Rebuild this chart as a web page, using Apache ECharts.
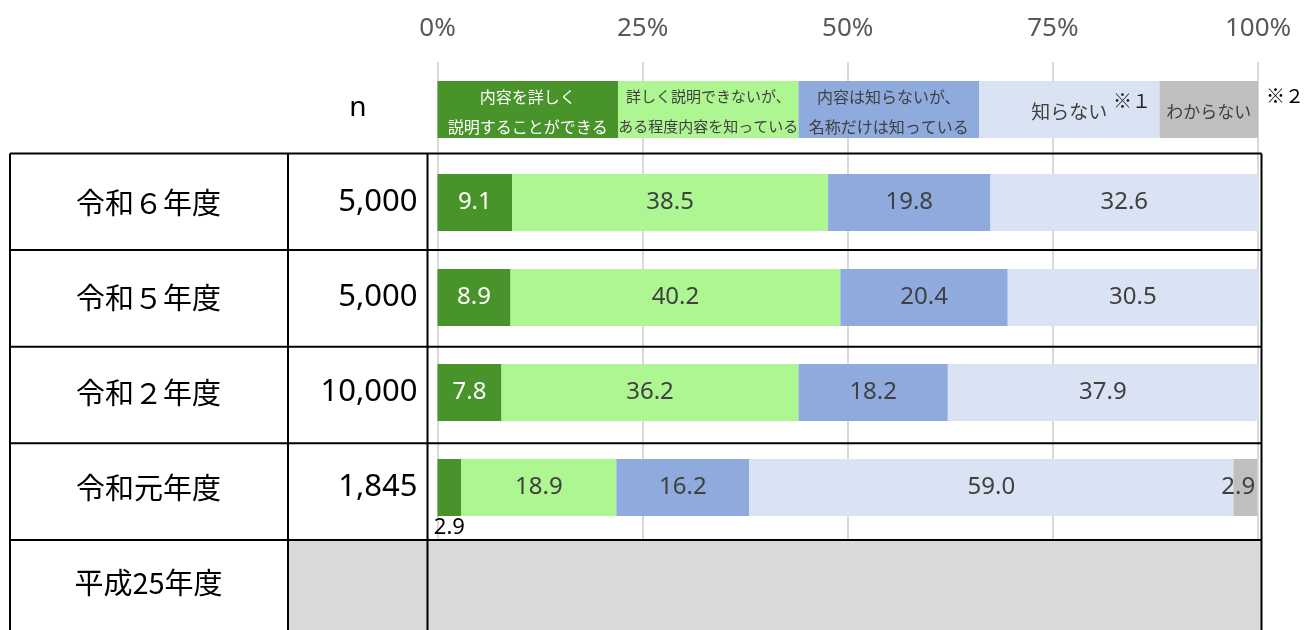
<!DOCTYPE html>
<html>
<head>
<meta charset="utf-8">
<script src="https://cdn.jsdelivr.net/npm/echarts@6/dist/echarts.min.js"></script>
<style>
  html, body { margin: 0; padding: 0; background: #fff; }
  #main { width: 1308px; height: 630px; }
</style>
</head>
<body>
<div id="main"></div>
<script>
// 行（年度）と回答数
var years = ['令和６年度', '令和５年度', '令和２年度', '令和元年度', '平成25年度']
var nValues = ['5,000', '5,000', '10,000', '1,845', '']

// 回答の割合（%）
var seriesNames = ['内容を詳しく\n説明することができる', '詳しく説明できないが、\nある程度内容を知っている', '内容は知らないが、\n名称だけは知っている', '知らない', 'わからない']
var detailed = [9.1, 8.9, 7.8, 2.9, null]
var someWhat = [38.5, 40.2, 36.2, 18.9, null]
var nameOnly = [19.8, 20.4, 18.2, 16.2, null]
var notKnow = [32.6, 30.5, 37.9, 59.0, null]
var unknown = [null, null, null, 2.9, null]

var xTicks = [0, 25, 50, 75, 100]
var legendStops = [0, 22, 44, 66, 88, 100]
var notes = ['', '', '', '※１', '※２']

var colors = ['#48942A', '#ADF692', '#8FAADC', '#DAE3F3', '#BFBFBF']
var labelColors = ['#fff', '#404040', '#404040', '#404040', '#404040']
var legendFontSizes = [16, 15, 16, 19, 17]

var numFont = '"Noto Sans", "Noto Sans CJK JP", sans-serif'
var jpFont = '"Noto Sans CJK JP", "Noto Sans", sans-serif'

var gridLeft = 437.5
var gridWidth = 820.5
var tableTop = 153.5
var rowH = 96.6
var tableLeft = 10
var col2 = 288
var col3 = 427.5
var tableRight = 1261.5

var myChart = echarts.init(document.getElementById('main'))

var seriesData = [detailed, someWhat, nameOnly, notKnow, unknown]
var series = seriesData.map(function (arr, i) {
  return {
    name: seriesNames[i],
    type: 'bar',
    stack: 'total',
    barWidth: 57,
    itemStyle: { color: colors[i] },
    emphasis: { disabled: true },
    label: {
      show: true,
      position: i === 4 ? 'insideRight' : 'inside',
      distance: 2,
      color: labelColors[i],
      fontSize: 24,
      fontFamily: numFont,
      formatter: function (p) {
        return p.value == null ? '' : Number(p.value).toFixed(1)
      }
    },
    data: arr.map(function (v) {
      // 細すぎる区間はラベルを棒の下に出す
      if (i === 0 && v !== null && v < 5) {
        return { value: v, label: { position: 'bottom', distance: 1, color: '#000', fontSize: 22 } }
      }
      return v
    })
  }
})

var option = {
  animation: false,
  grid: {
    left: gridLeft,
    width: gridWidth,
    top: tableTop + 1.5,
    height: rowH * years.length
  },
  xAxis: {
    type: 'value',
    position: 'top',
    min: xTicks[0],
    max: xTicks[xTicks.length - 1],
    interval: xTicks[1] - xTicks[0],
    axisLine: { show: false },
    axisTick: {
      show: true,
      length: 93,
      lineStyle: { color: '#D9D9D9', width: 2 }
    },
    axisLabel: {
      formatter: '{value}%',
      color: '#595959',
      fontSize: 26,
      fontFamily: numFont,
      margin: 113
    },
    splitLine: {
      show: true,
      lineStyle: { color: '#D9D9D9', width: 2 }
    }
  },
  yAxis: {
    type: 'category',
    data: years,
    inverse: true,
    axisLine: { show: false },
    axisTick: { show: false },
    splitLine: { show: false },
    axisLabel: {
      interval: 0,
      margin: 20,
      formatter: function (value, index) {
        return '{a|' + value + '}{b|' + (nValues[index] || ' ') + '}'
      },
      rich: {
        a: { width: 278, align: 'center', fontSize: 29, fontFamily: jpFont, color: '#000' },
        b: { width: 130, align: 'right', fontSize: 31, fontFamily: numFont, color: '#000' }
      }
    }
  },
  series: series
}

myChart.setOption(option)

// 凡例と表の罫線
var elements = []
var px = function (v) { return myChart.convertToPixel({ xAxisIndex: 0 }, v) }

for (var i = 0; i < seriesNames.length; i++) {
  var x0 = px(legendStops[i])
  var x1 = px(legendStops[i + 1])
  elements.push({
    type: 'rect', z: 5,
    shape: { x: x0, y: 81, width: x1 - x0, height: 57 },
    style: { fill: colors[i] }
  })
  elements.push({
    type: 'text', z: 6,
    x: (x0 + x1) / 2, y: 111.5,
    style: {
      text: seriesNames[i],
      fill: labelColors[i],
      fontSize: legendFontSizes[i],
      fontFamily: jpFont,
      lineHeight: 30,
      align: 'center',
      verticalAlign: 'middle'
    }
  })
}
elements.push({
  type: 'text', z: 6, x: px(legendStops[3]) + 134, y: 101,
  style: { text: notes[3], fill: '#262626', fontSize: 19, fontFamily: jpFont, align: 'left', verticalAlign: 'middle' }
})
elements.push({
  type: 'text', z: 6, x: px(legendStops[5]) + 8, y: 96,
  style: { text: notes[4], fill: '#000', fontSize: 19, fontFamily: jpFont, align: 'left', verticalAlign: 'middle' }
})
elements.push({
  type: 'text', z: 6, x: 358, y: 108,
  style: { text: 'n', fill: '#000', fontSize: 28, fontFamily: numFont, align: 'center', verticalAlign: 'middle' }
})

// データなしの行
var lastTop = tableTop + rowH * (years.length - 1)
elements.push({
  type: 'rect', z: 3,
  shape: { x: col2, y: lastTop, width: tableRight - col2, height: 630 - lastTop },
  style: { fill: '#D9D9D9' }
})

var lineStyle = { stroke: '#000', lineWidth: 2 }
for (var k = 0; k < years.length; k++) {
  var y = tableTop + rowH * k
  elements.push({
    type: 'line', z: 10,
    shape: { x1: tableLeft, y1: y, x2: tableRight, y2: y },
    style: lineStyle
  })
}
;[tableLeft, col2, col3, tableRight].forEach(function (x) {
  elements.push({
    type: 'line', z: 10,
    shape: { x1: x, y1: tableTop, x2: x, y2: 630 },
    style: lineStyle
  })
})

myChart.setOption({ graphic: { elements: elements } })
</script>
</body>
</html>
